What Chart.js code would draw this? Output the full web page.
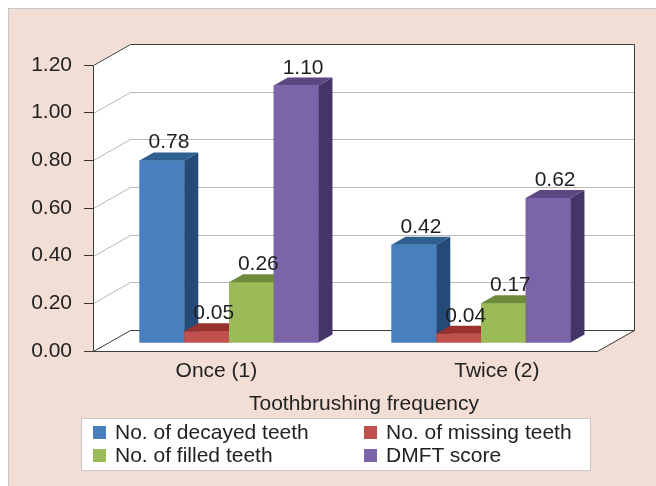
<!DOCTYPE html>
<html>
<head>
<meta charset="utf-8">
<script src="https://cdn.jsdelivr.net/npm/chart.js@4.4.1/dist/chart.umd.min.js"></script>
<style>
  body { margin: 0; background: #fff; }
  #wrap { position: relative; width: 656px; height: 486px; overflow: hidden; font-family: "Liberation Sans", Arial, sans-serif; color: #222; }
  #panel { position: absolute; left: 8px; top: 8px; right: 0; bottom: 0; background: #f2ded5; border-left: 1px solid #c8c8c8; border-top: 1px solid #c8c8c8; }
  #chart { position: absolute; left: 0; top: 0; }
  #xtitle { position: absolute; left: 93px; width: 542px; top: 390px; text-align: center; font-size: 21px; line-height: 26px; }
  #legend { position: absolute; left: 81px; top: 418px; width: 508px; height: 51px; background: #fff; border: 1px solid #c8c8c8; }
  .item { position: absolute; font-size: 21px; line-height: 24px; white-space: nowrap; }
  .item span { position: absolute; left: -22px; top: 6px; width: 13px; height: 13px; }
</style>
</head>
<body>
<div id="wrap">
  <div id="panel"></div>
  <canvas id="chart" width="656" height="486"></canvas>
  <div id="xtitle">Toothbrushing frequency</div>
  <div id="legend"></div>
</div>
<script>
const categories = ["Once (1)", "Twice (2)"];
const seriesNames = ["No. of decayed teeth", "No. of missing teeth", "No. of filled teeth", "DMFT score"];
const decayed = [0.78, 0.42];
const missing = [0.05, 0.04];
const filled = [0.26, 0.17];
const dmft = [1.10, 0.62];
const yTicks = [0, 0.2, 0.4, 0.6, 0.8, 1.0, 1.2];

const frontColors = ["#4a7fbf", "#c0504d", "#9bbb59", "#7b64a9"];
const topColors = ["#2f5f8f", "#99312f", "#6e8b3c", "#5d4783"];
const sideColors = ["#244b77", "#8a2b2a", "#657f37", "#433567"];

// 3d look
const wallDepth = { x: 37, y: -21 };
const barShift = { x: 10, y: -8 };
const barDepth = { x: 14, y: -8 };
const barSquash = 0.982;
// category labels sit a little wider apart than the bar groups (perspective)
const labelMin = -0.44;
const labelMax = 1.357;

Chart.defaults.font.family = "'Liberation Sans', Arial, sans-serif";
Chart.defaults.font.size = 21;
Chart.defaults.color = "#222";

const px = (v) => Math.round(v) + 0.5;

const box3d = {
    id: "box3d",
    beforeDatasetsDraw(chart) {
        const { ctx, chartArea: a, scales: { y } } = chart;
        const dx = wallDepth.x, dy = wallDepth.y;
        const top = y.getPixelForValue(yTicks[yTicks.length - 1]);
        const bottom = y.getPixelForValue(0);
        ctx.save();
        ctx.fillStyle = "#fff";
        ctx.beginPath();
        ctx.moveTo(a.left, top);
        ctx.lineTo(a.left + dx, top + dy);
        ctx.lineTo(a.right + dx, top + dy);
        ctx.lineTo(a.right + dx, bottom + dy);
        ctx.lineTo(a.right, bottom);
        ctx.lineTo(a.left, bottom);
        ctx.closePath();
        ctx.fill();

        ctx.lineWidth = 1;
        ctx.strokeStyle = "#b8b8b8";
        yTicks.slice(1, -1).forEach((v) => {
            const py = px(y.getPixelForValue(v));
            ctx.beginPath();
            ctx.moveTo(px(a.left), py);
            ctx.lineTo(px(a.left + dx), py + dy);
            ctx.lineTo(px(a.right + dx), py + dy);
            ctx.stroke();
        });

        const L = px(a.left), R = px(a.right), T = px(top), B = px(bottom);
        ctx.strokeStyle = "#3c3c3c";
        ctx.beginPath();
        ctx.moveTo(L, T); ctx.lineTo(L + dx, T + dy); ctx.lineTo(R + dx, T + dy); ctx.lineTo(R + dx, B + dy);
        ctx.moveTo(L + dx, B + dy); ctx.lineTo(R + dx, B + dy);
        ctx.moveTo(R, B); ctx.lineTo(R + dx, B + dy);
        ctx.moveTo(L - 9, B); ctx.lineTo(R, B);
        ctx.moveTo(L, B); ctx.lineTo(L + dx, B + dy);
        ctx.moveTo(L, T); ctx.lineTo(L, B);
        ctx.stroke();
        ctx.restore();

        // bars are drawn a bit back into the box
        ctx.save();
        ctx.translate(barShift.x, barShift.y);
        ctx.translate(0, bottom);
        ctx.scale(1, barSquash);
        ctx.translate(0, -bottom);
    },
    afterDatasetsDraw(chart) {
        const { ctx, scales: { y } } = chart;
        const ddx = barDepth.x, ddy = barDepth.y / barSquash;
        // redraw as boxes, first series at the back so each one overlaps the previous
        chart.data.datasets.forEach((ds, i) => {
            chart.getDatasetMeta(i).data.forEach((bar) => {
                const { x, y: by, base, width } = bar.getProps(["x", "y", "base", "width"], true);
                const l = x - width / 2, r = x + width / 2;
                ctx.fillStyle = frontColors[i];
                ctx.fillRect(l, by, width, base - by);
                ctx.fillStyle = sideColors[i];
                ctx.beginPath();
                ctx.moveTo(r, by); ctx.lineTo(r + ddx, by + ddy); ctx.lineTo(r + ddx, base + ddy); ctx.lineTo(r, base);
                ctx.closePath();
                ctx.fill();
                ctx.fillStyle = topColors[i];
                ctx.beginPath();
                ctx.moveTo(l, by); ctx.lineTo(l + ddx, by + ddy); ctx.lineTo(r + ddx, by + ddy); ctx.lineTo(r, by);
                ctx.closePath();
                ctx.fill();
            });
        });
        ctx.restore();

        const base = y.getPixelForValue(0);
        ctx.save();
        ctx.font = "21px 'Liberation Sans', Arial, sans-serif";
        ctx.fillStyle = "#1e1e1e";
        ctx.textAlign = "center";
        ctx.textBaseline = "alphabetic";
        chart.data.datasets.forEach((ds, i) => {
            chart.getDatasetMeta(i).data.forEach((bar, j) => {
                const fx = bar.x + barShift.x + barDepth.x / 2;
                const fy = base + (bar.y - base) * barSquash + barShift.y + barDepth.y - 4;
                ctx.fillText(ds.data[j].toFixed(2), fx, fy);
            });
        });
        ctx.restore();
    }
};

const values = [decayed, missing, filled, dmft];
const datasets = seriesNames.map((name, i) => ({
    label: name,
    data: values[i],
    backgroundColor: frontColors[i],
    borderWidth: 0,
    clip: false
}));

new Chart(document.getElementById("chart"), {
    type: "bar",
    data: { labels: categories, datasets: datasets },
    options: {
        responsive: false,
        animation: false,
        devicePixelRatio: 1,
        layout: { padding: { top: 65, right: 59, bottom: 0, left: 0 } },
        categoryPercentage: 0.71,
        barPercentage: 1,
        plugins: { legend: { display: false }, tooltip: { enabled: false } },
        scales: {
            x: { display: false },
            xl: {
                type: "linear",
                position: "bottom",
                offset: false,
                bounds: "data",
                min: labelMin,
                max: labelMax,
                afterBuildTicks: (s) => { s.ticks = categories.map((c, i) => ({ value: i })); },
                grid: { display: false, drawTicks: false, offset: false },
                border: { display: false },
                ticks: { padding: 8, color: "#222", autoSkip: false, maxRotation: 0, callback: (v) => categories[v] },
                afterFit: (s) => { s.height = 135; }
            },
            y: {
                min: 0,
                max: 1.2,
                ticks: { stepSize: 0.2, padding: 12, color: "#222", callback: (v) => v.toFixed(2) },
                grid: { drawOnChartArea: false, drawTicks: true, tickLength: 9, color: "#333", tickColor: "#333" },
                border: { display: false },
                afterFit: (s) => { s.width = 93; }
            }
        }
    },
    plugins: [box3d]
});

// legend, two columns
const legend = document.getElementById("legend");
const spots = [[33, 1], [304, 1], [33, 24], [304, 24]];
seriesNames.forEach((name, i) => {
    const item = document.createElement("div");
    item.className = "item";
    item.style.left = spots[i][0] + "px";
    item.style.top = spots[i][1] + "px";
    const sw = document.createElement("span");
    sw.style.background = frontColors[i];
    item.appendChild(sw);
    item.appendChild(document.createTextNode(name));
    legend.appendChild(item);
});
</script>
</body>
</html>
